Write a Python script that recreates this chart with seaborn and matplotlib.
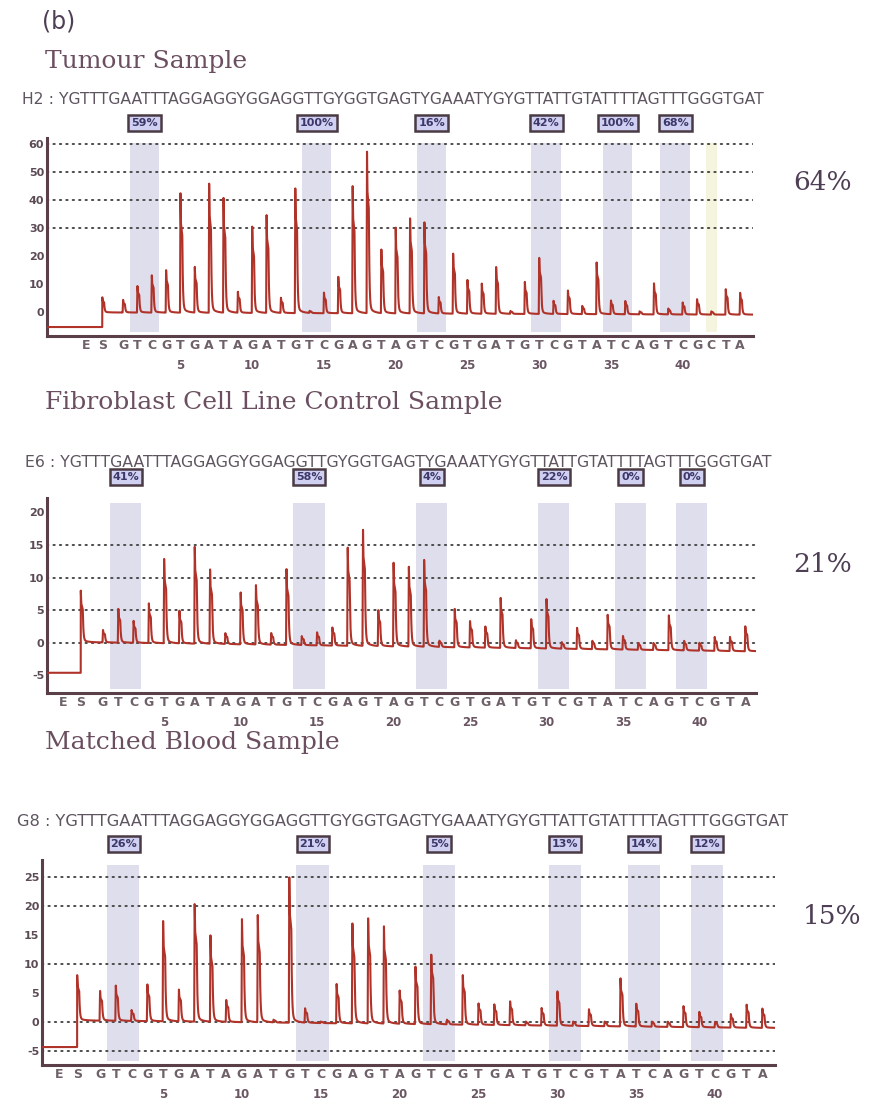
import numpy as np
import pandas as pd
import matplotlib
matplotlib.use("Agg")
import matplotlib.pyplot as plt
import matplotlib.transforms as mtransforms
import seaborn as sns

sns.set_theme(style="white")
plt.rcParams["font.family"] = ["DejaVu Sans"]

W, H = 877, 1108

# ---------------------------------------------------------------- data
sequence = "YGTTTGAATTTAGGAGGYGGAGGTTGYGGTGAGTYGAAATYGYGTTATTGTATTTTAGTTTGGGTGAT"

disp_tumour = list("GTCGTGATAGATGTCGAGTAGTCGTGATGTCGTATCAGTCGCTA")
disp_control = list("GTCGTGATAGATGTCGAGTAGTCGTGATGTCGTATCAGTCGTA")
disp_blood = list("GTCGTGATAGATGTCGAGTAGTCGTGATGTCGTATCAGTCGTA")

# dispensation numbers of the T of each T/C (CpG) pair
cpg_t_positions = [2, 14, 22, 30, 35, 39]
control_c_tumour = [42]

# peak heights per dispensation (1..n)
peaks_tumour = [4.4, 9.5, 13.5, 15.2, 42.5, 16, 46, 41, 7.2, 31, 35.3, 5.1, 45.5, 0.3,
                7, 12.5, 45, 57.5, 22.4, 30.5, 34, 32.7, 5.4, 21.5, 11.7, 10.2, 16, 0.3,
                10.8, 19.5, 4, 7.8, 2.2, 18.2, 4.2, 4, 0.2, 10.2, 1.2, 3.4, 4.6, 0.2, 8.3, 7]
peaks_control = [2, 5.3, 3.4, 6.1, 12.9, 4.9, 15, 11.6, 1.5, 7.9, 9, 1.5, 11.4, 1, 1.6,
                 2.4, 15.1, 17.8, 5.1, 12.5, 11.8, 12.8, 0.3, 5.2, 3.4, 2.6, 7.1, 0.4, 3.7,
                 6.8, 0.1, 2.3, 0.3, 4.4, 1.1, 0, 0, 4.3, 0.3, 0, 0.9, 0.9, 2.6]
peaks_blood = [5.4, 6.3, 2, 6.6, 17.4, 5.6, 20.8, 15, 3.8, 17.7, 18.7, 0.3, 25.1, 2.3, 0,
               6.6, 17.5, 17.9, 16.8, 5.4, 9.6, 11.9, 0.3, 8.2, 3.2, 3, 3.6, 0, 2.4, 5.4,
               0, 2.2, 0, 7.6, 3.2, 0, 0, 2.7, 1.7, 0, 1.3, 3, 2.3]

# substrate peak, level before substrate, baseline at start / end
substrate_peak = [5.4, 8.0, 8.1]
pre_level = [-5.4, -4.6, -4.4]
baseline_start = [-0.2, 0.1, 0.2]
baseline_end = [-1.0, -1.3, -1.1]

well_ids = ["H2", "E6", "G8"]
titles = ["Tumour Sample", "Fibroblast Cell Line Control Sample", "Matched Blood Sample"]
overall_pct = ["64%", "21%", "15%"]
site_pct = [["59%", "100%", "16%", "42%", "100%", "68%"],
            ["41%", "58%", "4%", "22%", "0%", "0%"],
            ["26%", "21%", "5%", "13%", "14%", "12%"]]

y_ticks = [list(range(0, 61, 10)), list(range(-5, 21, 5)), list(range(-5, 26, 5))]
y_grid = [[30, 40, 50, 60], [0, 5, 10, 15], [-5, 0, 10, 20, 25]]
number_labels = [5, 10, 15, 20, 25, 30, 35, 40]

# ---------------------------------------------------------------- layout (pixels)
panels = [
    dict(disp=disp_tumour, peaks=peaks_tumour, box=(47, 753, 138, 336),
         xlim=(-4.3, 44.9), ylim=(-8.6, 62), seq_y=100, seq_x=(22, 768),
         box_y=123, title_y=68, pct_y=183, pct_x=793, controls=control_c_tumour),
    dict(disp=disp_control, peaks=peaks_control, box=(47, 756, 498, 693),
         xlim=(-2.66, 43.7), ylim=(-7.7, 22.2), seq_y=463, seq_x=(25, 772),
         box_y=477, title_y=409, pct_y=565, pct_x=793, controls=[]),
    dict(disp=disp_blood, peaks=peaks_blood, box=(42, 775, 860, 1065),
         xlim=(-2.68, 43.8), ylim=(-7.5, 27.9), seq_y=822, seq_x=(17, 793),
         box_y=844, title_y=749, pct_y=916, pct_x=803, controls=[]),
]

E_POS, S_POS = -1.6, -0.45

TRACE = "#b0332a"
SPINE = "#5a3f48"
SHADE = "#dedeed"
TEXT_DARK = "#4f3f55"
TITLE_COL = "#6b4f60"
LETTER_COL = "#6e6169"


def kernel(t):
    """Shape of a single pyrogram peak (relative time in dispensation units)."""
    k = np.interp(t, [-0.03, 0.0, 0.03, 0.13], [0.0, 1.0, 0.75, 0.64], left=0.0, right=0.0)
    tail = t > 0.13
    k[tail] = (0.6 * np.exp(-(t[tail] - 0.13) / 0.04)
               + 0.04 * np.exp(-(t[tail] - 0.13) / 0.3))
    return k


def build_trace(i, xlim, heights):
    x = np.linspace(xlim[0], xlim[1], 9000)
    pos = np.arange(1, len(heights) + 1)
    last = pos[-1]
    frac = np.clip((x - S_POS) / (last - S_POS), 0, 1)
    base = baseline_start[i] + (baseline_end[i] - baseline_start[i]) * frac
    y = base.copy()
    after = x >= S_POS
    y[~after] = pre_level[i]
    y[after] += (substrate_peak[i] - baseline_start[i]) * kernel(x[after] - S_POS)
    for p, h in zip(pos, heights):
        bp = baseline_start[i] + (baseline_end[i] - baseline_start[i]) * (p - S_POS) / (last - S_POS)
        amp = max(h - bp, 0.0)
        y += amp * kernel(x - p)
    return pd.DataFrame({"x": x, "signal": y})


fig = plt.figure(figsize=(W / 100, H / 100), dpi=100)
fig.patch.set_facecolor("white")


def fx(px):
    return px / W


def fy(py):
    return 1 - py / H


fig.text(fx(42), fy(22), "(b)", fontsize=17, color=TEXT_DARK, va="center", ha="left")

seq_texts = []
for i, pnl in enumerate(panels):
    l, r, t, b = pnl["box"]
    ax = fig.add_axes([fx(l), fy(b), (r - l) / W, (b - t) / H])
    ax.set_facecolor("none")
    ax.set_xlim(*pnl["xlim"])
    ax.set_ylim(*pnl["ylim"])

    n = len(pnl["disp"])
    # shaded T/C columns
    for tp in cpg_t_positions:
        ax.axvspan(tp - 0.55, tp + 1.5, ymin=0.02, ymax=0.975, color=SHADE, lw=0, zorder=0)
    for cp in pnl["controls"]:
        ax.axvspan(cp - 0.4, cp + 0.4, ymin=0.02, ymax=0.975, color="#f4f4df", lw=0, zorder=0)

    # dotted reference lines
    for g in y_grid[i]:
        ax.axhline(g, color="#4a4a4a", lw=1.4, ls=(0, (0.7, 2.6)),
                   dash_capstyle="round", zorder=1)

    df = build_trace(i, pnl["xlim"], pnl["peaks"])
    sns.lineplot(data=df, x="x", y="signal", ax=ax, color=TRACE, lw=1.5,
                 estimator=None, sort=False, zorder=3)

    # axes styling
    for side in ["top", "right"]:
        ax.spines[side].set_visible(False)
    for side in ["left", "bottom"]:
        ax.spines[side].set_color(SPINE)
        ax.spines[side].set_linewidth(2.2)
    ax.set_xlabel("")
    ax.set_ylabel("")

    xt = [E_POS, S_POS] + list(range(1, n + 1))
    ax.set_xticks(xt)
    ax.set_xticklabels(["E", "S"] + pnl["disp"])
    ax.tick_params(axis="x", direction="in", length=5, width=1.3, color=SPINE,
                   pad=2, labelsize=9, labelcolor=LETTER_COL)
    for lab in ax.get_xticklabels():
        lab.set_fontweight("bold")
    ax.set_yticks(y_ticks[i])
    ax.set_yticklabels([str(v) for v in y_ticks[i]])
    ax.tick_params(axis="y", direction="in", length=4, width=1.5, color=SPINE,
                   pad=2, labelsize=8, labelcolor="#5b4b55")
    for lab in ax.get_yticklabels():
        lab.set_fontweight("bold")

    for num in number_labels:
        ax.annotate(str(num), xy=(num, 0), xycoords=ax.get_xaxis_transform(),
                    xytext=(0, -21.5), textcoords="offset points", ha="center",
                    va="center", fontsize=8.5, fontweight="bold", color="#6a5562")

    # methylation percentage boxes above each T/C column
    trans = mtransforms.blended_transform_factory(ax.transData, fig.transFigure)
    for tp, lab in zip(cpg_t_positions, site_pct[i]):
        fig.text(tp + 0.5, fy(pnl["box_y"]), lab, transform=trans, ha="center",
                 va="center", fontsize=8, fontweight="bold", color="#3c3768",
                 bbox=dict(boxstyle="square,pad=0.25", fc="#d0d0f2", ec="#4a3a44", lw=1.8))

    # assay sequence line
    st = fig.text(fx(pnl["seq_x"][0]), fy(pnl["seq_y"]),
                  f"{well_ids[i]} : {sequence}", ha="left", va="center",
                  fontsize=9, color="#5e5560")
    seq_texts.append((st, pnl["seq_x"][1] - pnl["seq_x"][0]))

    # section title and overall methylation level
    fig.text(fx(45), fy(pnl["title_y"]), titles[i], ha="left", va="baseline",
             fontsize=18, family="DejaVu Serif", color=TITLE_COL)
    fig.text(fx(pnl["pct_x"]), fy(pnl["pct_y"]), overall_pct[i], ha="left",
             va="center", fontsize=19, family="DejaVu Serif", color=TEXT_DARK)

# stretch the sequence lines to their widths
fig.canvas.draw()
renderer = fig.canvas.get_renderer()
for st, target in seq_texts:
    w = st.get_window_extent(renderer).width
    st.set_fontsize(st.get_fontsize() * target / w)

fig.savefig("out.png", dpi=100, facecolor="white")
